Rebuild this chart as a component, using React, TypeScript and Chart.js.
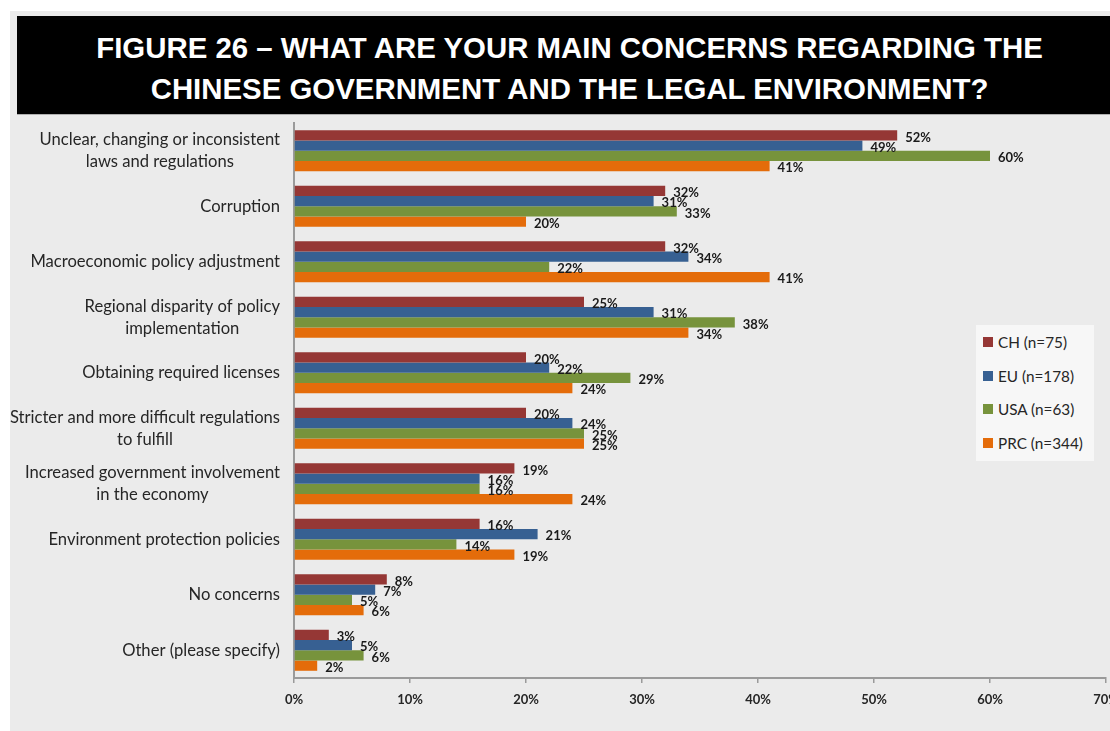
import React, { useEffect, useRef } from "react";
import { Chart, registerables } from "chart.js";

Chart.register(...registerables);

const titleLines = [
  "FIGURE 26 \u2013 WHAT ARE YOUR MAIN CONCERNS REGARDING THE",
  "CHINESE GOVERNMENT AND THE LEGAL ENVIRONMENT?",
];

const categories: string[][] = [
  ["Unclear, changing or inconsistent", "laws and regulations"],
  ["Corruption"],
  ["Macroeconomic policy adjustment"],
  ["Regional disparity of policy", "implementation"],
  ["Obtaining required licenses"],
  ["Stricter and more difficult regulations", "to fulfill"],
  ["Increased government involvement", "in the economy"],
  ["Environment protection policies"],
  ["No concerns"],
  ["Other (please specify)"],
];

const seriesNames = ["CH (n=75)", "EU (n=178)", "USA (n=63)", "PRC (n=344)"];
const seriesColors = ["#953735", "#376092", "#77933C", "#E46C0A"];

const chValues = [52, 32, 32, 25, 20, 20, 19, 16, 8, 3];
const euValues = [49, 31, 34, 31, 22, 24, 16, 21, 7, 5];
const usaValues = [60, 33, 22, 38, 29, 25, 16, 14, 5, 6];
const prcValues = [41, 20, 41, 34, 24, 25, 24, 19, 6, 2];

const xMin = 0;
const xMax = 70;
const xStep = 10;

const LABEL_FONT = "Lato, 'Open Sans', 'Liberation Sans', sans-serif";

const categoryLabelPlugin = {
  id: "categoryLabels",
  afterDraw(chart: any) {
    const ctx = chart.ctx;
    const yScale = chart.scales.y;
    const rightEdge = chart.chartArea.left - 14;
    ctx.save();
    ctx.font = `16.6px ${LABEL_FONT}`;
    ctx.fillStyle = "#262626";
    ctx.textBaseline = "middle";
    ctx.textAlign = "center";
    categories.forEach((lines, i) => {
      const cy = yScale.getPixelForValue(i);
      const maxW = Math.max(...lines.map((l) => ctx.measureText(l).width));
      const cx = rightEdge - maxW / 2;
      lines.forEach((line, k) => {
        const y = cy + (k - (lines.length - 1) / 2) * 22;
        ctx.fillText(line, cx, y);
      });
    });
    ctx.restore();
  },
};

const valueLabelPlugin = {
  id: "valueLabels",
  afterDatasetsDraw(chart: any) {
    const ctx = chart.ctx;
    ctx.save();
    ctx.font = `bold 13px ${LABEL_FONT}`;
    ctx.fillStyle = "#1a1a1a";
    ctx.textBaseline = "middle";
    ctx.textAlign = "left";
    chart.data.datasets.forEach((ds: any, di: number) => {
      const meta = chart.getDatasetMeta(di);
      meta.data.forEach((el: any, i: number) => {
        ctx.fillText(`${ds.data[i]}%`, el.x + 8, el.y + 2);
      });
    });
    ctx.restore();
  },
};

function BarChart() {
  const ref = useRef<HTMLCanvasElement | null>(null);
  useEffect(() => {
    if (!ref.current) return;
    const chart = new Chart(ref.current, {
      type: "bar",
      data: {
        labels: categories.map((c) => c.join(" ")),
        datasets: [chValues, euValues, usaValues, prcValues].map((d, i) => ({
          label: seriesNames[i],
          data: d,
          backgroundColor: seriesColors[i],
          borderWidth: 0,
          barPercentage: 1,
          categoryPercentage: 0.74,
        })),
      },
      options: {
        indexAxis: "y",
        animation: false,
        responsive: false,
        maintainAspectRatio: false,
        layout: { padding: { top: 9, right: 4, bottom: 13, left: 0 } },
        plugins: {
          legend: { display: false },
          tooltip: { enabled: false },
        },
        scales: {
          x: {
            min: xMin,
            max: xMax,
            grid: {
              display: true,
              drawOnChartArea: false,
              drawTicks: true,
              tickLength: 5,
              color: "#9a9a9a",
              lineWidth: 1.5,
            },
            border: { display: true, color: "#9a9a9a", width: 2 },
            ticks: {
              stepSize: xStep,
              padding: 9,
              color: "#262626",
              font: { family: LABEL_FONT, size: 13, weight: "bold" },
              callback: (v: any) => `${v}%`,
            },
            afterFit: (scale: any) => {
              scale.paddingLeft = 0;
              scale.paddingRight = 0;
              scale.height = 40;
            },
          },
          y: {
            grid: { display: false, drawTicks: false },
            border: { display: true, color: "#9a9a9a", width: 2 },
            ticks: { display: false },
            afterFit: (scale: any) => {
              scale.width = 284;
            },
          },
        },
      },
      plugins: [categoryLabelPlugin, valueLabelPlugin],
    });
    return () => chart.destroy();
  }, []);
  return (
    <canvas
      ref={ref}
      width={1100}
      height={617}
      style={{ position: "absolute", left: 10, top: 114, width: 1100, height: 617 }}
    />
  );
}

export default function App() {
  return (
    <div
      style={{
        position: "absolute",
        left: 0,
        top: 0,
        width: 1110,
        height: 731,
        background: "#ffffff",
        overflow: "hidden",
      }}
    >
      <div
        style={{
          position: "absolute",
          left: 10,
          top: 11,
          width: 1100,
          height: 720,
          background: "#ebebeb",
        }}
      />
      <div
        style={{
          position: "absolute",
          left: 17,
          top: 16,
          width: 1093,
          height: 98,
          background: "#000000",
          borderBottom: "1px solid #b0b0b0",
          color: "#ffffff",
          fontFamily: "'Liberation Sans', Arial, sans-serif",
          fontWeight: "bold",
          fontSize: 29.4,
          textAlign: "center",
        }}
      >
        {titleLines.map((t, i) => (
          <div
            key={i}
            style={{
              position: "absolute",
              left: 12,
              right: 0,
              top: i === 0 ? 11 : 52,
              lineHeight: "41px",
              height: 41,
              whiteSpace: "nowrap",
            }}
          >
            {t}
          </div>
        ))}
      </div>
      <BarChart />
      <div
        style={{
          position: "absolute",
          left: 976,
          top: 325,
          width: 118,
          height: 136,
          background: "#f7f7f7",
          fontFamily: LABEL_FONT,
          fontSize: 15.3,
          color: "#262626",
        }}
      >
        {seriesNames.map((name, i) => (
          <div
            key={name}
            style={{
              position: "absolute",
              left: 7,
              top: 17 + i * 33.7 - 10,
              height: 20,
              display: "flex",
              alignItems: "center",
              whiteSpace: "nowrap",
            }}
          >
            <span
              style={{
                display: "inline-block",
                width: 10,
                height: 10,
                background: seriesColors[i],
                marginRight: 5,
              }}
            />
            <span>{name}</span>
          </div>
        ))}
      </div>
    </div>
  );
}
